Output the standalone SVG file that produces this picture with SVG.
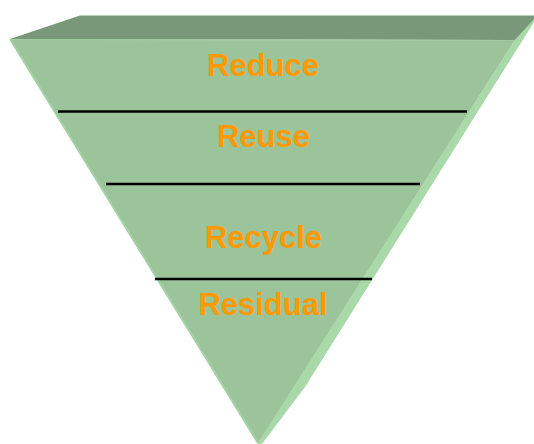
<svg xmlns="http://www.w3.org/2000/svg" width="534" height="444" viewBox="0 0 534 444">
<style>
.lbl{font-family:"Liberation Sans",Arial,sans-serif;font-weight:bold;font-size:31px;fill:#ff9900;text-anchor:middle}
.div{stroke:#000;stroke-width:2.5}
</style>
<rect width="534" height="444" fill="#fff"/>
<g id="pyramid">
<polygon id="side" points="515,40 534,18 534,22 305,387 262,444 257,444" fill="#a9d9a9"/>
<polygon id="top" points="10,39 80,15.5 534,15.5 534,19 515,40" fill="#799879"/>
<polygon id="front" points="10,39 515,40 258,443" fill="#9bc49b"/>
<line x1="10" y1="39" x2="258" y2="443" stroke="#a5d2a5" stroke-width="2"/>
<line x1="10" y1="39.5" x2="515" y2="40.5" stroke="#a3cca3" stroke-width="1"/>
</g>
<g id="connectors">
<line class="div" x1="58" y1="111.5" x2="467" y2="111.5"/>
<line class="div" x1="106" y1="184" x2="420" y2="184"/>
<line class="div" x1="155" y1="279" x2="372" y2="279"/>
</g>
<g id="reduce"><text class="lbl" x="263" y="76">Reduce</text></g>
<g id="reuse"><text class="lbl" x="263.5" y="147">Reuse</text></g>
<g id="recycle"><text class="lbl" x="263.5" y="248">Recycle</text></g>
<g id="residual"><text class="lbl" x="263" y="315">Residual</text></g>
</svg>
